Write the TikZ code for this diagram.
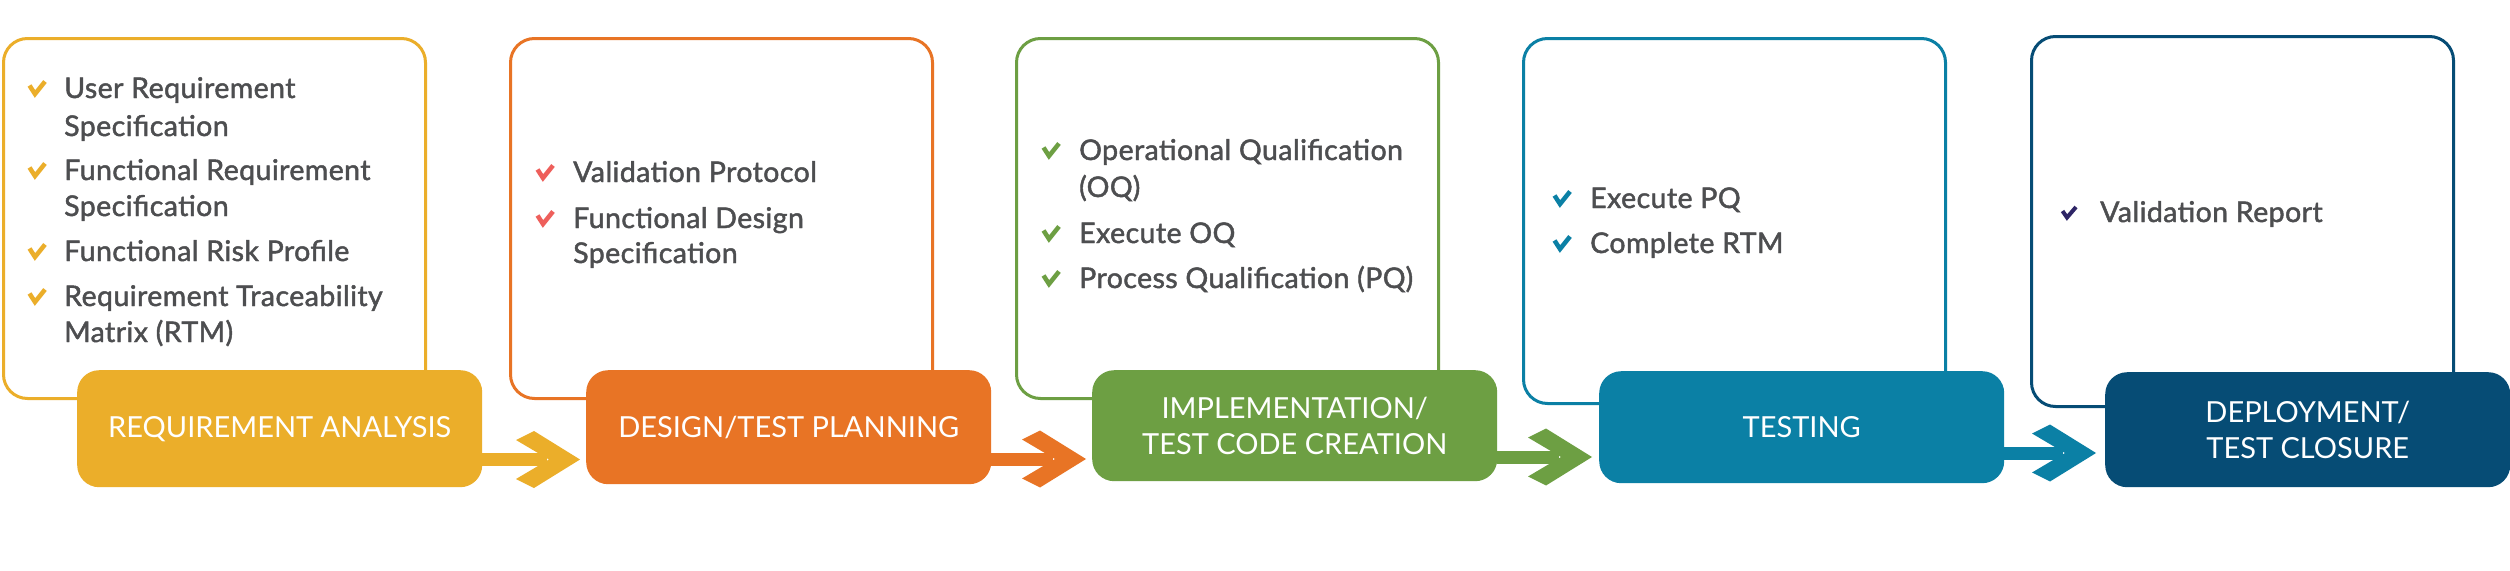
\documentclass[tikz,border=0pt]{standalone}
\usepackage{fontspec}
\setmainfont{Lato}
\newfontfamily\bodyfont{Lato}[FakeBold=1.6,LetterSpace=1.5]
\newfontfamily\lblfont{Lato}
\usetikzlibrary{calc}
\definecolor{cA}{HTML}{EBAE2A}
\definecolor{cB}{HTML}{E87425}
\definecolor{cC}{HTML}{6D9F43}
\definecolor{cD}{HTML}{0B80A5}
\definecolor{cE}{HTML}{064C75}
\definecolor{tickB}{HTML}{EE5F5B}
\definecolor{tickE}{HTML}{2E2566}
\definecolor{txt}{HTML}{4D4E50}
\tikzset{
  panel/.style={draw=#1, line width=3pt, rounded corners=24pt, fill=white,
    inner sep=0pt, anchor=north west, minimum width=422pt},
  lbl/.style={fill=#1, rounded corners=22pt, inner sep=0pt, anchor=north west,
    text=white, align=center, minimum width=405pt,
    font=\lblfont\fontsize{29}{36}\selectfont},
  item/.style={anchor=base west, inner sep=0pt, text=txt,
    font=\bodyfont\fontsize{28.5}{36}\selectfont},
  shaft/.style={draw=#1, line width=13pt},
  tick/.pic={\draw[line width=4.5pt, line join=miter, line cap=butt, #1]
    (1.5,-12.5) -- (7,-4) -- (17,-16.5);},
  smalltick/.pic={\draw[line width=4pt, line join=miter, line cap=butt, #1]
    (1.5,-10) -- (6,-3.5) -- (15,-14);},
  chev/.pic={\fill[#1] (0,0) -- (-46,-28.5) -- (-64,-19.5) -- (-31,0)
    -- (-64,19.5) -- (-46,28.5) -- cycle;}
}
\begin{document}
\begin{tikzpicture}[x=1pt,y=-1pt]
\path[use as bounding box, fill=white] (0,0) rectangle (2510,570);

% outline panels
\node[panel=cA, minimum height=360pt] (b1) at (2,37) {};
\node[panel=cB, minimum height=360pt] (b2) at (509,37) {};
\node[panel=cC, minimum height=360pt] (b3) at (1015,37) {};
\node[panel=cD, minimum height=365pt] (b4) at (1522,37) {};
\node[panel=cE, minimum height=370pt] (b5) at (2030,35) {};

% stage labels
\node[lbl=cA, minimum height=117pt] (l1) at (77,370) {REQUIREMENT ANALYSIS};
\node[lbl=cB, minimum height=114pt] (l2) at (586,370) {DESIGN/TEST PLANNING};
\node[lbl=cC, minimum height=111pt] (l3) at (1092,370) {IMPLEMENTATION/\\TEST CODE CREATION};
\node[lbl=cD, minimum height=112pt] (l4) at (1599,371) {TESTING};
\node[lbl=cE, minimum height=115pt] (l5) at (2105,372) {DEPLOYMENT/\\TEST CLOSURE};

% connectors
\coordinate (a1) at ($(l2.west |- 0,459.5)+(-6,0)$);
\coordinate (a2) at ($(l3.west |- 0,459)+(-6,0)$);
\coordinate (a3) at ($(l4.west |- 0,457)+(-7,0)$);
\coordinate (a4) at ($(l5.west |- 0,453)+(-9,0)$);
\draw[shaft=cA] (l1.east |- a1) -- ($(a1)+(-33,0)$);
\draw[shaft=cB] (l2.east |- a2) -- ($(a2)+(-33,0)$);
\draw[shaft=cC] (l3.east |- a3) -- ($(a3)+(-33,0)$);
\draw[shaft=cD] (l4.east |- a4) -- ($(a4)+(-33,0)$);
\pic at (a1) {chev=cA};
\pic at (a2) {chev=cB};
\pic at (a3) {chev=cC};
\pic at (a4) {chev=cD};

% panel 1 items
\node[item] (p1a) at (64,98) {User Requirement};
\node[item] (p1b) at (64,136) {Specification};
\node[item] (p1c) at (64,180) {Functional Requirement};
\node[item] (p1d) at (64,216) {Specification};
\node[item] (p1e) at (64,261) {Functional Risk Profile};
\node[item] (p1f) at (64,306) {Requirement Traceability};
\node[item] (p1g) at (64,342) {Matrix (RTM)};
\foreach \n in {p1a,p1c,p1e,p1f} \pic at ($(\n.base west)+(-36,0)$) {tick=cA};

% panel 2 items
\node[item] (p2a) at (573,182) {Validation Protocol};
\node[item] (p2b) at (573,228) {Functional Design};
\node[item] (p2c) at (573,263) {Specification};
\foreach \n in {p2a,p2b} \pic at ($(\n.base west)+(-37,0)$) {tick=tickB};

% panel 3 items
\node[item] (p3a) at (1079,160) {Operational Qualification};
\node[item] (p3b) at (1079,197) {(OQ)};
\node[item] (p3c) at (1079,243) {Execute OQ};
\node[item] (p3d) at (1079,288) {Process Qualification (PQ)};
\foreach \n in {p3a,p3c,p3d} \pic at ($(\n.base west)+(-37,0)$) {tick=cC};

% panel 4 items
\node[item] (p4a) at (1590,208) {Execute PQ};
\node[item] (p4b) at (1590,253) {Complete RTM};
\foreach \n in {p4a,p4b} \pic at ($(\n.base west)+(-37,0)$) {tick=cD};

% panel 5 items
\node[item] (p5a) at (2100,222) {Validation Report};
\pic at ($(p5a.base west)+(-39,-1)$) {smalltick=tickE};
\end{tikzpicture}
\end{document}
